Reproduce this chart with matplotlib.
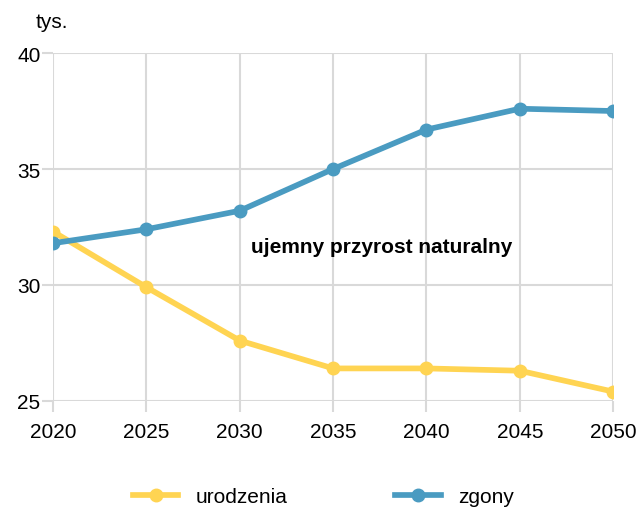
import numpy as np
import matplotlib
matplotlib.use("Agg")
import matplotlib.pyplot as plt

plt.rcParams['font.family'] = ['Liberation Sans', 'DejaVu Sans']

# Dane (tys.)
lata = [2020, 2025, 2030, 2035, 2040, 2045, 2050]
urodzenia = [32.3, 29.9, 27.6, 26.4, 26.4, 26.3, 25.4]
zgony = [31.8, 32.4, 33.2, 35.0, 36.7, 37.6, 37.5]

kolor_ur = '#FFD452'
kolor_zg = '#4A9BC1'
siatka = '#D9D9D9'

fig = plt.figure(figsize=(6.4, 5.1), dpi=100)
ax = fig.add_axes([0.083, 0.212, 0.875, 0.682])

ax.plot(lata, urodzenia, color=kolor_ur, lw=4.1, marker='o', ms=9,
        label='urodzenia', zorder=3)
ax.plot(lata, zgony, color=kolor_zg, lw=4.1, marker='o', ms=9,
        label='zgony', zorder=3)

ax.set_xlim(2020, 2050)
ax.set_ylim(25, 40)
ax.set_xticks(lata)
ax.set_yticks([25, 30, 35, 40])

for s in ax.spines.values():
    s.set_visible(False)
ax.grid(True, color=siatka, lw=1.5)
ax.tick_params(axis='both', colors=siatka, width=1.5, length=8,
               labelcolor='black', labelsize=15)
ax.tick_params(axis='x', pad=7)
ax.tick_params(axis='y', pad=1)
ax.set_axisbelow(True)

ax.text(2037.6, 31.65, 'ujemny przyrost naturalny', fontsize=15,
        fontweight='bold', ha='center', va='center')
fig.text(0.055, 0.955, 'tys.', fontsize=15, ha='left', va='center')

fig.legend(loc='center', bbox_to_anchor=(0.505, 0.024), ncol=2,
           frameon=False, fontsize=15, handlelength=2.2,
           columnspacing=5.2, handletextpad=0.8)

fig.savefig('out.png', dpi=100)
